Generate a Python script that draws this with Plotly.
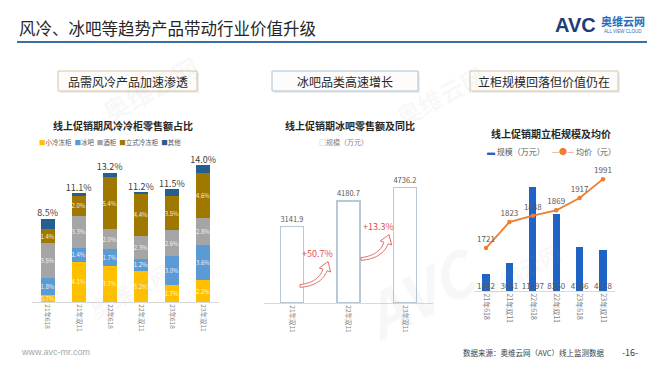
import math
import plotly.graph_objects as go

W, H = 660, 372
FONT = "Noto Sans CJK SC"


def px(x):
    return x / W


def py(y):
    return 1 - y / H


# ---------------- data ----------------
left_cats = ["21年618", "21年双11", "22年618", "22年双11", "23年618", "23年双11"]
small_freezer = [0.7, 4.1, 3.7, 3.2, 1.7, 2.2]      # 小冷冻柜
bar_fridge = [1.8, 1.4, 1.7, 1.2, 3.0, 3.6]         # 冰吧
wine_cabinet = [3.5, 3.3, 2.0, 2.3, 2.6, 2.8]       # 酒柜
upright_freezer = [1.4, 2.0, 5.4, 4.4, 3.5, 4.6]    # 立式冷冻柜
others = [1.1, 0.3, 0.4, 0.1, 0.7, 0.8]             # 其他
share_totals = [8.5, 11.1, 13.2, 11.2, 11.5, 14.0]

mid_cats = ["21年双11", "22年双11", "23年双11"]
bar_sales = [3141.9, 4180.7, 4736.2]
bar_growth = ["+50.7%", "+13.3%"]

right_cats = ["21年618", "21年双11", "22年618", "22年双11", "23年618", "23年双11"]
upright_sales = [1842, 3041, 11297, 8360, 4786, 4478]
upright_price = [1721, 1823, 1848, 1869, 1917, 1991]

series_names = ["小冷冻柜", "冰吧", "酒柜", "立式冷冻柜", "其他"]
series_colors = ["#FFC000", "#5B9BD5", "#A5A5A5", "#A07800", "#255E91"]

fig = go.Figure()

# ---------------- left stacked chart ----------------
for name, vals, col in zip(series_names,
                           [small_freezer, bar_fridge, wine_cabinet, upright_freezer, others],
                           series_colors):
    show_text = name != "其他"
    fig.add_trace(go.Bar(
        x=left_cats, y=vals, name=name, marker=dict(color=col, line=dict(width=0)),
        width=0.45, xaxis="x", yaxis="y",
        text=[f"{v:.1f}%" for v in vals] if show_text else None,
        textposition="inside" if show_text else "none",
        insidetextanchor="middle", textangle=0, constraintext="none",
        textfont=dict(size=6, color="rgba(255,255,255,0.9)", family=FONT),
        showlegend=False, hoverinfo="skip",
    ))

fig.add_trace(go.Scatter(
    x=left_cats, y=share_totals, mode="text",
    text=[f"{v:.1f}%" for v in share_totals], textposition="top center",
    textfont=dict(size=9, color="#404040", family=FONT),
    xaxis="x", yaxis="y", showlegend=False, hoverinfo="skip",
))

# ---------------- middle chart ----------------
fig.add_trace(go.Bar(
    x=mid_cats, y=bar_sales, width=0.41,
    marker=dict(color="white", line=dict(color="#B7C8D6", width=1.5)),
    text=[f"{v:.1f}" for v in bar_sales], textposition="outside", cliponaxis=False,
    textfont=dict(size=8.5, color="#595959", family=FONT),
    xaxis="x2", yaxis="y2", showlegend=False, hoverinfo="skip",
))

# ---------------- right chart ----------------
fig.add_trace(go.Bar(
    x=right_cats, y=upright_sales, width=0.3,
    marker=dict(color="#1F63C6", line=dict(width=0)),
    xaxis="x3", yaxis="y3", showlegend=False, hoverinfo="skip",
))
fig.add_trace(go.Scatter(
    x=right_cats, y=[0] * len(upright_sales), mode="text",
    text=[str(v) for v in upright_sales], textposition="top center",
    textfont=dict(size=8, color="#595959", family=FONT),
    xaxis="x3", yaxis="y3", showlegend=False, hoverinfo="skip", cliponaxis=False,
))
fig.add_trace(go.Scatter(
    x=right_cats, y=upright_price, mode="lines+markers+text",
    line=dict(color="#ED7D31", width=1.8), marker=dict(color="#ED7D31", size=4.5),
    text=[str(v) for v in upright_price], textposition="top center",
    textfont=dict(size=8, color="#595959", family=FONT),
    xaxis="x3", yaxis="y4", showlegend=False, hoverinfo="skip", cliponaxis=False,
))

axis_common = dict(showgrid=False, zeroline=False, ticks="", showline=True,
                   linecolor="#D9D9D9", linewidth=1, tickangle=90,
                   tickfont=dict(size=6.5, color="#7F7F7F", family=FONT), fixedrange=True)

fig.update_layout(
    width=W, height=H, margin=dict(l=0, r=0, t=0, b=0),
    paper_bgcolor="white", plot_bgcolor="rgba(0,0,0,0)",
    barmode="stack", showlegend=False,
    font=dict(family=FONT, color="#404040"),
    xaxis=dict(domain=[px(32), px(218.6)], anchor="y", range=[-0.5, 5.5], **axis_common),
    yaxis=dict(domain=[py(302), py(150)], range=[0, 15.51], visible=False, anchor="x"),
    xaxis2=dict(domain=[px(263.75), px(433.25)], anchor="y2", range=[-0.5, 2.5], **axis_common),
    yaxis2=dict(domain=[py(303), py(150)], range=[0, 6270], visible=False, anchor="x2"),
    xaxis3=dict(domain=[px(474.3), px(614.7)], anchor="y3", range=[-0.5, 5.5], **axis_common),
    yaxis3=dict(domain=[py(291), py(160)], range=[0, 14227], visible=False, anchor="x3"),
    yaxis4=dict(overlaying="y3", range=[1553, 2066], visible=False, anchor="x3"),
)
fig.update_xaxes(tickfont_size=7, selector=dict(anchor="y3"))

shapes = []
annos = []


def note(text, x, y, size, color="#404040", family=FONT, xanchor="center", angle=0, **kw):
    annos.append(dict(text=text, x=px(x), y=py(y), xref="paper", yref="paper",
                      xanchor=xanchor, yanchor="middle", showarrow=False, textangle=angle,
                      font=dict(size=size, color=color, family=family), **kw))


# faint watermarks
wm = "rgba(150,150,150,0.08)"
for (wx, wy, s, t) in [(150, 88, 26, "<b>奥维云网</b>"), (420, 290, 60, "<b><i>AVC</i></b>"),
                       (130, 290, 22, "<b>奥维云网</b>"), (520, 270, 22, "<b>奥维云网</b>"),
                       (440, 95, 24, "<b>奥维云网</b>")]:
    note(t, wx, wy, s, color=wm, angle=-28)

# title underline
shapes.append(dict(type="line", xref="paper", yref="paper",
                   x0=px(17), x1=px(647), y0=py(42), y1=py(42),
                   line=dict(color="#3A6EA5", width=2)))

# sub-header boxes
boxes = [
    (58, 197, "#D6C5A6", "品需风冷产品加速渗透"),
    (272, 418, "#A9C1D5", "冰吧品类高速增长"),
    (470, 618, "#D6C5A6", "立柜规模回落但价值仍在"),
]
for x0, x1, bc, txt in boxes:
    shapes.append(dict(type="rect", xref="paper", yref="paper",
                       x0=px(x0 + 2), x1=px(x1 + 2), y0=py(93), y1=py(73),
                       line=dict(width=0), fillcolor="#EDEDED", layer="below"))
    shapes.append(dict(type="rect", xref="paper", yref="paper",
                       x0=px(x0), x1=px(x1), y0=py(91), y1=py(71),
                       line=dict(color=bc, width=1), fillcolor="#FDFCFA", layer="below"))
    note(txt, (x0 + x1) / 2, 81, 12, color="#262626")

# main title
note("风冷、冰吧等趋势产品带动行业价值升级", 17, 28, 16.5, color="#262626", xanchor="left")

# logo
note("<b>AVC</b>", 575, 25, 20, color="#1E3C78", family="Liberation Sans")
note("<b>奥维云网</b>", 623, 21, 11, color="#2B6CB8")
note("ALL VIEW CLOUD", 623, 31, 4.5, color="#2B6CB8", family="Liberation Sans")

# chart titles
for cx, cy, txt in [(123, 126, "线上促销期风冷冷柜零售额占比"),
                    (350, 126, "线上促销期冰吧零售额及同比"),
                    (551, 133, "线上促销期立柜规模及均价")]:
    note(f"<b>{txt}</b>", cx, cy, 10, color="#262626")

# legends (as text)
left_leg = "  ".join(f"<span style='color:{c}'>■</span>{n}" for n, c in zip(series_names, series_colors))
note(left_leg, 110, 142, 6.5, color="#595959")
note("<span style='color:#9FB3C3'>□</span>规模（万元）", 343, 142, 7, color="#7F7F7F")
note("<span style='color:#1F63C6'>▬</span> 规模（万元）    "
     "<span style='color:#ED7D31'>—●—</span> 均价（元）", 551, 151, 8, color="#595959")


# growth arrows (middle chart) as hollow curved block arrows
def curved_arrow(p0, c, p1, shaft=4.5, head_w=12, head_len=9, n=14):
    def bez(t):
        x = (1 - t) ** 2 * p0[0] + 2 * (1 - t) * t * c[0] + t ** 2 * p1[0]
        y = (1 - t) ** 2 * p0[1] + 2 * (1 - t) * t * c[1] + t ** 2 * p1[1]
        dx = 2 * (1 - t) * (c[0] - p0[0]) + 2 * t * (p1[0] - c[0])
        dy = 2 * (1 - t) * (c[1] - p0[1]) + 2 * t * (p1[1] - c[1])
        L = math.hypot(dx, dy)
        return x, y, dx / L, dy / L

    left, right = [], []
    for i in range(n + 1):
        t = i / n
        x, y, ux, uy = bez(t)
        nx, ny = -uy, ux
        w = shaft / 2 * (0.6 + 0.4 * t)
        left.append((x + nx * w, y + ny * w))
        right.append((x - nx * w, y - ny * w))
    x, y, ux, uy = bez(1)
    nx, ny = -uy, ux
    hl = (x + nx * head_w / 2, y + ny * head_w / 2)
    hr = (x - nx * head_w / 2, y - ny * head_w / 2)
    tip = (x + ux * head_len, y + uy * head_len)
    pts = left + [hl, tip, hr] + right[::-1]
    return "M " + " L ".join(f"{px(a):.5f},{py(b):.5f}" for a, b in pts) + " Z"


arrow_defs = [((300, 286), (320, 284), (325, 270)), ((361, 259), (381, 257), (386, 243))]
label_pos = [(317, 254), (378, 226)]
for (p0, c, p1), (lx, ly), txt in zip(arrow_defs, label_pos, bar_growth):
    shapes.append(dict(type="path", xref="paper", yref="paper", path=curved_arrow(p0, c, p1),
                       line=dict(color="#E07070", width=1), fillcolor="white"))
    note(txt, lx, ly, 9, color="#E05050")

# footer
note("www.avc-mr.com", 19, 352, 9, color="#A6A6A6", family="Liberation Sans", xanchor="left")
note("数据来源：奥维云网（AVC）线上监测数据", 606, 352, 7.5, color="#404040", xanchor="right")
note("-16-", 630, 352, 9, color="#404040")

fig.update_layout(shapes=shapes, annotations=annos)
fig.write_html("out.html", config={"displayModeBar": False},
               post_script="document.body.style.margin='0px';")
